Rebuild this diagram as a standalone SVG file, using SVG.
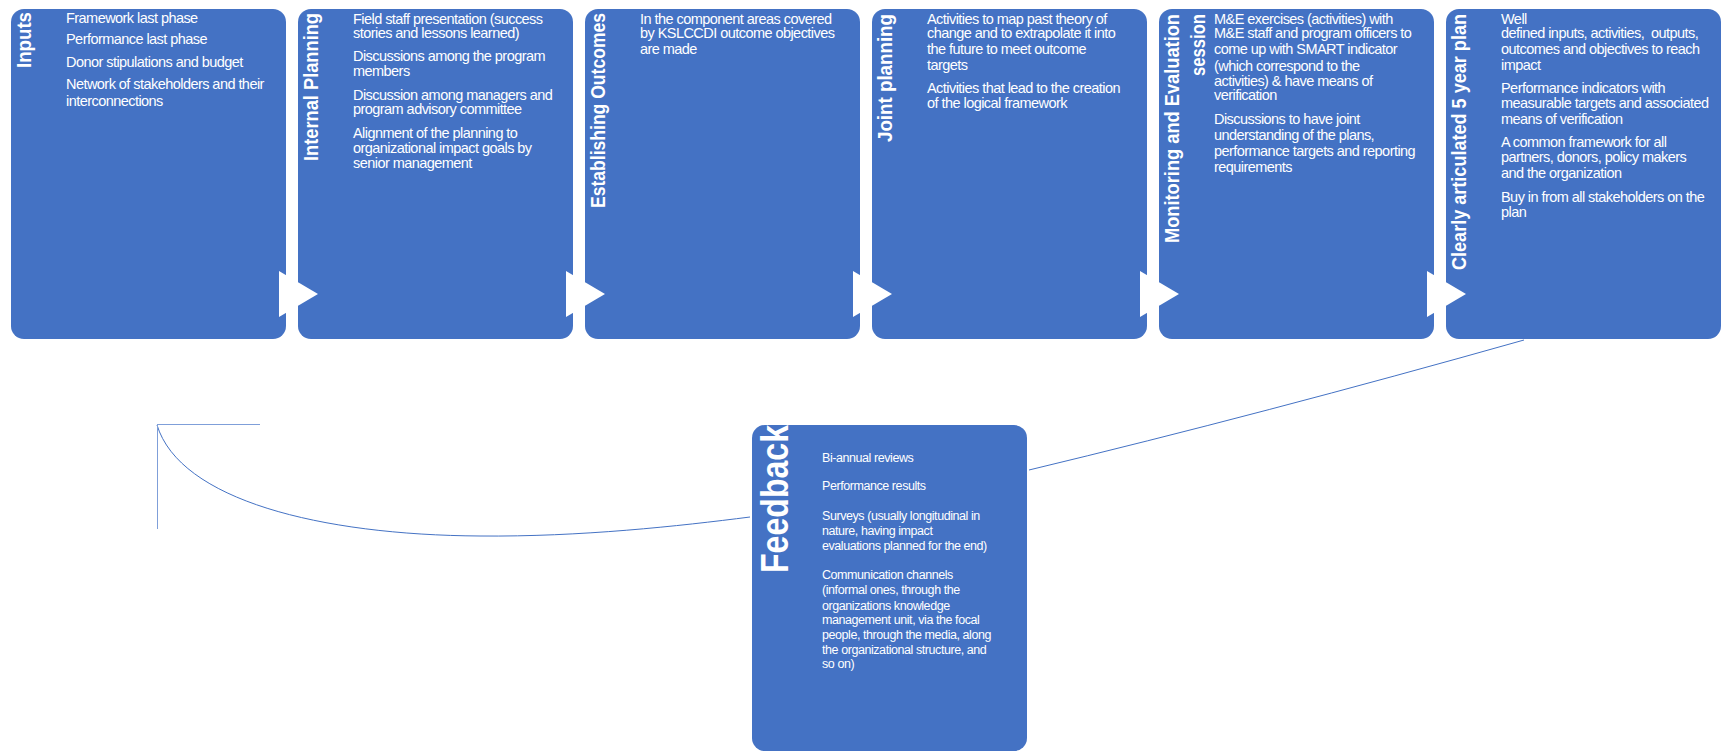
<svg xmlns="http://www.w3.org/2000/svg" width="1725" height="752" viewBox="0 0 1725 752">
  <style>
    .box { fill: #4472C4; }
    .chev { fill: #FFFFFF; }
    .ttl { font-family: "Liberation Sans", Arial, sans-serif; font-weight: bold; font-size: 20px; fill: #FFFFFF; }
    .txt { font-family: "Liberation Sans", Arial, sans-serif; font-size: 14.5px; letter-spacing: -0.55px; fill: #FFFFFF; }
    .ftxt { font-family: "Liberation Sans", Arial, sans-serif; font-size: 12.5px; letter-spacing: -0.43px; fill: #FFFFFF; }
    .conn { fill: none; stroke: #4472C4; stroke-width: 1; }
    .conn-lt { fill: none; stroke: #7F9FD9; stroke-width: 1; }
  </style>
  <rect width="1725" height="752" fill="#FFFFFF"/>

  <!-- step 1 -->
  <g id="inputs">
    <rect class="box" x="11" y="9" width="275" height="330" rx="13"/>
    <text class="ttl" transform="translate(31,12) rotate(-90)" text-anchor="end" textLength="56" lengthAdjust="spacingAndGlyphs">Inputs</text>
    <text class="txt" x="66" y="23">Framework last phase</text>
    <text class="txt" x="66" y="44">Performance last phase</text>
    <text class="txt" x="66" y="67">Donor stipulations and budget</text>
    <text class="txt" x="66" y="89">Network of stakeholders and their</text>
    <text class="txt" x="66" y="106">interconnections</text>
  </g>

  <!-- step 2 -->
  <g id="internal-planning">
    <rect class="box" x="298" y="9" width="275" height="330" rx="13"/>
    <text class="ttl" transform="translate(318,13) rotate(-90)" text-anchor="end" textLength="148" lengthAdjust="spacingAndGlyphs">Internal Planning</text>
    <text class="txt" x="353" y="24">Field staff presentation (success</text>
    <text class="txt" x="353" y="38">stories and lessons learned)</text>
    <text class="txt" x="353" y="61">Discussions among the program</text>
    <text class="txt" x="353" y="76">members</text>
    <text class="txt" x="353" y="100">Discussion among managers and</text>
    <text class="txt" x="353" y="114">program advisory committee</text>
    <text class="txt" x="353" y="138">Alignment of the planning to</text>
    <text class="txt" x="353" y="153">organizational impact goals by</text>
    <text class="txt" x="353" y="168">senior management</text>
  </g>

  <!-- step 3 -->
  <g id="establishing-outcomes">
    <rect class="box" x="585" y="9" width="275" height="330" rx="13"/>
    <text class="ttl" transform="translate(605,13) rotate(-90)" text-anchor="end" textLength="195" lengthAdjust="spacingAndGlyphs">Establishing Outcomes</text>
    <text class="txt" x="640" y="24">In the component areas covered</text>
    <text class="txt" x="640" y="38">by KSLCCDI outcome objectives</text>
    <text class="txt" x="640" y="54">are made</text>
  </g>

  <!-- step 4 -->
  <g id="joint-planning">
    <rect class="box" x="872" y="9" width="275" height="330" rx="13"/>
    <text class="ttl" transform="translate(892,14) rotate(-90)" text-anchor="end" textLength="128" lengthAdjust="spacingAndGlyphs">Joint planning</text>
    <text class="txt" x="927" y="24">Activities to map past theory of</text>
    <text class="txt" x="927" y="38">change and to extrapolate it into</text>
    <text class="txt" x="927" y="54">the future to meet outcome</text>
    <text class="txt" x="927" y="70">targets</text>
    <text class="txt" x="927" y="93">Activities that lead to the creation</text>
    <text class="txt" x="927" y="108">of the logical framework</text>
  </g>

  <!-- step 5 -->
  <g id="monitoring-evaluation">
    <rect class="box" x="1159" y="9" width="275" height="330" rx="13"/>
    <text class="ttl" transform="translate(1179,14) rotate(-90)" text-anchor="end" textLength="229" lengthAdjust="spacingAndGlyphs">Monitoring and Evaluation</text>
    <text class="ttl" transform="translate(1205,14) rotate(-90)" text-anchor="end" textLength="62" lengthAdjust="spacingAndGlyphs">session</text>
    <text class="txt" x="1214" y="24">M&amp;E exercises (activities) with</text>
    <text class="txt" x="1214" y="38">M&amp;E staff and program officers to</text>
    <text class="txt" x="1214" y="54">come up with SMART indicator</text>
    <text class="txt" x="1214" y="71">(which correspond to the</text>
    <text class="txt" x="1214" y="86">activities) &amp; have means of</text>
    <text class="txt" x="1214" y="100">verification</text>
    <text class="txt" x="1214" y="124">Discussions to have joint</text>
    <text class="txt" x="1214" y="140">understanding of the plans,</text>
    <text class="txt" x="1214" y="156">performance targets and reporting</text>
    <text class="txt" x="1214" y="172">requirements</text>
  </g>

  <!-- step 6 -->
  <g id="five-year-plan">
    <rect class="box" x="1446" y="9" width="275" height="330" rx="13"/>
    <text class="ttl" transform="translate(1466,14) rotate(-90)" text-anchor="end" textLength="256" lengthAdjust="spacingAndGlyphs">Clearly articulated 5 year plan</text>
    <text class="txt" x="1501" y="24">Well</text>
    <text class="txt" x="1501" y="38" style="white-space:pre">defined inputs, activities,  outputs,</text>
    <text class="txt" x="1501" y="54">outcomes and objectives to reach</text>
    <text class="txt" x="1501" y="70">impact</text>
    <text class="txt" x="1501" y="93">Performance indicators with</text>
    <text class="txt" x="1501" y="108">measurable targets and associated</text>
    <text class="txt" x="1501" y="124">means of verification</text>
    <text class="txt" x="1501" y="147">A common framework for all</text>
    <text class="txt" x="1501" y="162">partners, donors, policy makers</text>
    <text class="txt" x="1501" y="178">and the organization</text>
    <text class="txt" x="1501" y="202">Buy in from all stakeholders on the</text>
    <text class="txt" x="1501" y="217">plan</text>
  </g>

  <!-- feedback loop box -->
  <g id="feedback">
    <rect class="box" x="752" y="425" width="275" height="326" rx="13"/>
    <text class="ttl" style="font-size:39px" transform="translate(788,425) rotate(-90)" text-anchor="end" textLength="148" lengthAdjust="spacingAndGlyphs">Feedback</text>
    <text class="ftxt" x="822" y="462">Bi-annual reviews</text>
    <text class="ftxt" x="822" y="490">Performance results</text>
    <text class="ftxt" x="822" y="520">Surveys (usually longitudinal in</text>
    <text class="ftxt" x="822" y="535">nature, having impact</text>
    <text class="ftxt" x="822" y="550">evaluations planned for the end)</text>
    <text class="ftxt" x="822" y="579">Communication channels</text>
    <text class="ftxt" x="822" y="594">(informal ones, through the</text>
    <text class="ftxt" x="822" y="610">organizations knowledge</text>
    <text class="ftxt" x="822" y="624">management unit, via the focal</text>
    <text class="ftxt" x="822" y="639">people, through the media, along</text>
    <text class="ftxt" x="822" y="654">the organizational structure, and</text>
    <text class="ftxt" x="822" y="668">so on)</text>
  </g>

  <!-- connectors: step-to-step chevrons on top of the boxes, then the feedback loop -->
  <g id="connectors">
    <polygon class="chev" points="279,271 318,294 279,317"/>
    <polygon class="chev" points="566,271 605,294 566,317"/>
    <polygon class="chev" points="853,271 892,294 853,317"/>
    <polygon class="chev" points="1140,271 1179,294 1140,317"/>
    <polygon class="chev" points="1427,271 1466,294 1427,317"/>
    <path class="conn" d="M1524,340 Q1262,414 1029,470"/>
    <path class="conn" d="M750,517 C680,526 580,537 480,536 C320,535 180,500 157,425"/>
    <line class="conn-lt" x1="157" y1="424.5" x2="260" y2="424.5"/>
    <line class="conn-lt" x1="157.5" y1="424" x2="157.5" y2="529"/>
  </g>
</svg>
